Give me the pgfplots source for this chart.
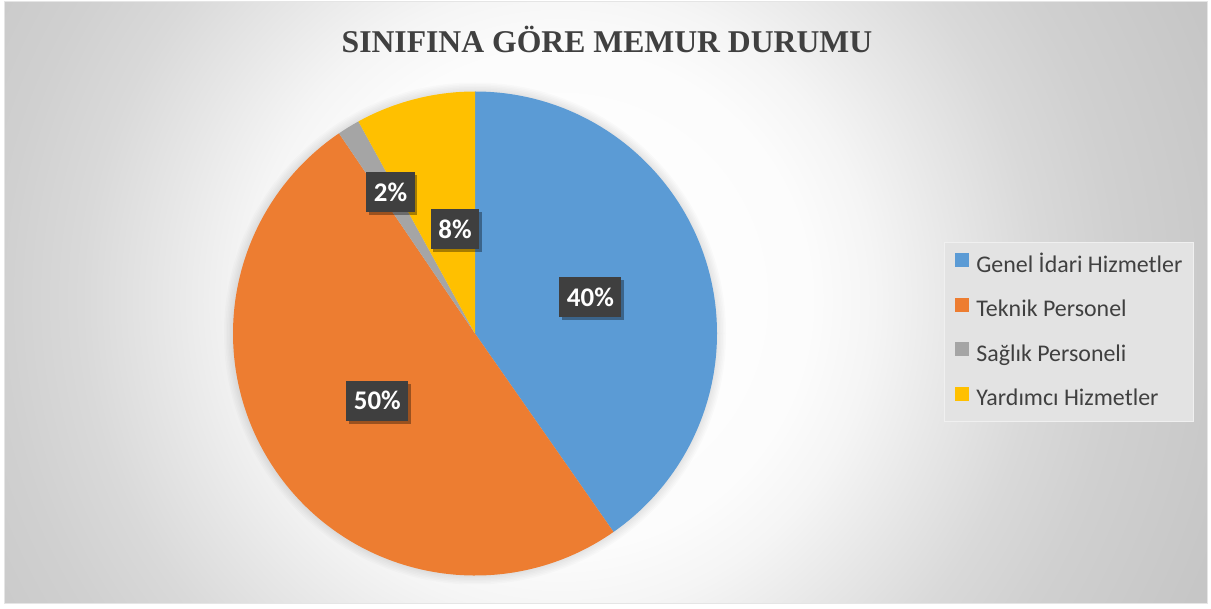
\documentclass[border=0pt]{standalone}
\usepackage{pgfplots}
\pgfplotsset{compat=1.18}
\usepackage{pgfplotstable}
\usepackage{fontspec}
\setmainfont{Carlito}
\newfontfamily\titlefont{Liberation Serif}
\usetikzlibrary{shadows,calc}
\definecolor{c0}{HTML}{5B9BD5}
\definecolor{c1}{HTML}{ED7D31}
\definecolor{c2}{HTML}{A5A5A5}
\definecolor{c3}{HTML}{FFC000}
\definecolor{txt}{HTML}{404040}
\definecolor{lblbg}{HTML}{3F3F3F}
\definecolor{legbg}{HTML}{E3E3E3}
\definecolor{bg1}{HTML}{FCFCFC}
\definecolor{bg2}{HTML}{F5F5F5}
\definecolor{bg3}{HTML}{E6E6E6}
\definecolor{bg4}{HTML}{D9D9D9}
\definecolor{bg5}{HTML}{D0D0D0}
\definecolor{bg6}{HTML}{C6C6C6}
\pgfdeclareradialshading{bgshade}{\pgfpoint{0bp}{0bp}}{color(0bp)=(white); color(8.9bp)=(bg1); color(11.2bp)=(bg2); color(14.3bp)=(bg3); color(17.1bp)=(bg4); color(20bp)=(bg5); color(25bp)=(bg6); color(50bp)=(bg6)}

% value = percent share; lr = label radius (fraction of R); la = label angle offset (deg)
\pgfplotstableread{
name value lr la
Genel 40.3 0.50 0
Teknik 50.2 0.49 0
Saglik 1.5 0.68 -0.6
Yardimci 8.0 0.44 -3.6
}\piedata

\begin{document}
\begin{tikzpicture}
% compute slice angles from the table
\def\cum{0}
\pgfplotsforeachungrouped \i in {0,...,3}{%
  \pgfplotstablegetelem{\i}{value}\of\piedata \let\v\pgfplotsretval
  \pgfplotstablegetelem{\i}{lr}\of\piedata \let\lr\pgfplotsretval
  \pgfplotstablegetelem{\i}{la}\of\piedata \let\la\pgfplotsretval
  \pgfmathsetmacro\a{90-3.6*\cum}%
  \pgfmathsetmacro\b{90-3.6*(\cum+\v)}%
  \pgfmathsetmacro\m{(\a+\b)/2+\la}%
  \pgfmathsetmacro\r{242*\lr}%
  \pgfmathtruncatemacro\p{round(\v)}%
  \expandafter\xdef\csname pieA\i\endcsname{\a}%
  \expandafter\xdef\csname pieB\i\endcsname{\b}%
  \expandafter\xdef\csname pieM\i\endcsname{\m}%
  \expandafter\xdef\csname pieR\i\endcsname{\r}%
  \expandafter\xdef\csname pieP\i\endcsname{\p}%
  \pgfmathsetmacro\cum{\cum+\v}%
}
% background frame
\fill[white] (0,0) rectangle (1211bp,608bp);
\begin{scope}
\clip (4bp,4bp) rectangle (1207bp,606bp);
\shade[shading=bgshade] (-140bp,-392bp) rectangle (1260bp,1008bp);
\end{scope}
\draw[color=white!80!gray, line width=1bp] (4bp,4bp) rectangle (1207bp,606bp);

\begin{axis}[
  at={(0,0)}, anchor=origin,
  x=1bp, y=1bp, scale only axis,
  xmin=0, xmax=1211, ymin=0, ymax=608,
  hide axis, clip=false,
  legend style={at={(axis cs:944,366)}, anchor=north west,
    fill=legbg, draw=white!88!gray, line width=0.8bp,
    font=\fontsize{24}{28}\selectfont, text=txt,
    inner xsep=11bp, inner ysep=11bp, row sep=20.4bp,
    nodes={inner sep=0pt, text height=17bp, text depth=5bp},
    /tikz/every odd column/.append style={column sep=7bp}},
  legend cell align=left,
  legend image code/.code={\path[#1, draw=none] (0bp,-1bp) rectangle (14bp,13bp);},
]
\addlegendimage{fill=c0, draw=none}
\addlegendimage{fill=c1, draw=none}
\addlegendimage{fill=c2, draw=none}
\addlegendimage{fill=c3, draw=none}
\legend{Genel İdari Hizmetler, Teknik Personel, Sağlık Personeli, Yardımcı Hizmetler}

% soft shadow
\pgfplotsinvokeforeach{1,...,6}{
  \fill[black, opacity=0.015] (axis cs:475,274.5) circle ({(242+#1*1.5)*1bp});
}
\pgfplotsinvokeforeach{0,...,3}{
  \fill[c#1] (axis cs:475,274.5) -- ++(\csname pieA#1\endcsname:242bp)
     arc[start angle=\csname pieA#1\endcsname, end angle=\csname pieB#1\endcsname, radius=242bp] -- cycle;
}
\pgfplotsinvokeforeach{0,...,3}{
  \node[fill=lblbg, text=white, font=\bfseries\fontsize{27}{29}\selectfont,
        inner xsep=7.5bp, minimum height=40bp,
        drop shadow={shadow xshift=2.5bp, shadow yshift=-3bp, opacity=0.35, fill=black}]
     at ($(axis cs:475,274.5)+(\csname pieM#1\endcsname:\csname pieR#1\endcsname bp)$)
     {\csname pieP#1\endcsname\%};
}
\node[font=\titlefont\bfseries\fontsize{31.8}{36}\selectfont, text=txt] at (axis cs:607,569) {SINIFINA GÖRE MEMUR DURUMU};
\end{axis}
\end{tikzpicture}
\end{document}
